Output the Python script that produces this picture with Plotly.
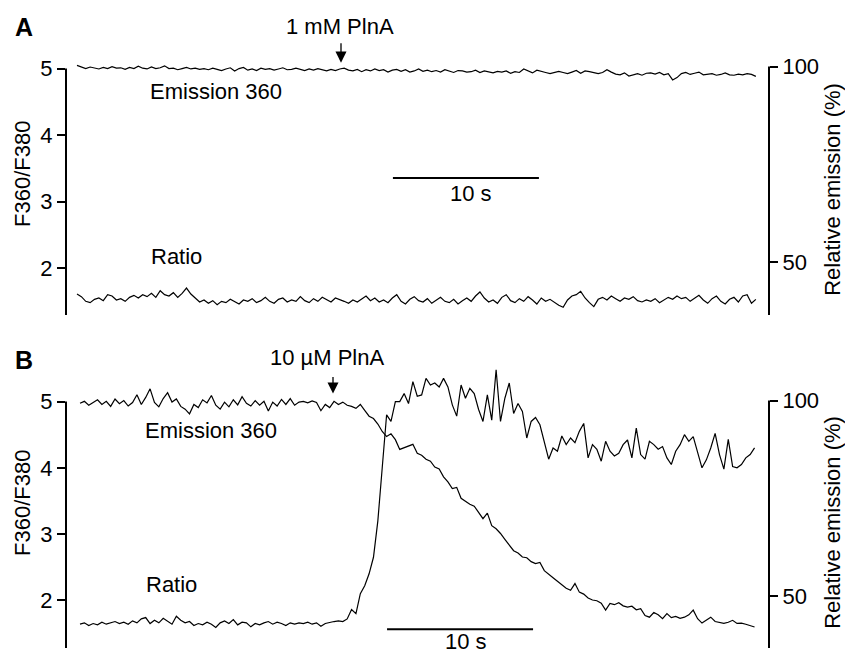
import plotly.graph_objects as go

# sample spacing of the recordings (s)
DT = 0.3

# Panel A: 1 mM PlnA
emis_a = [100.3, 99.8, 99.5, 99.9, 99.6, 99.4, 99.8, 99.5, 100.0, 99.6,
          99.7, 99.3, 99.8, 99.5, 100.1, 99.6, 99.4, 99.9, 99.5, 99.7,
          100.2, 99.5, 99.6, 99.2, 99.5, 99.8, 99.4, 99.6, 99.3, 99.5,
          99.2, 99.6, 99.3, 99.0, 99.4, 99.7, 98.9, 99.5, 99.8, 99.1,
          99.4, 99.0, 99.6, 99.3, 99.5, 99.1, 99.4, 99.7, 99.2, 99.3,
          99.6, 99.2, 99.0, 99.4, 99.1, 99.5, 99.2, 98.9, 99.3, 99.0,
          99.4, 99.6, 99.1, 98.9, 99.3, 98.7, 99.2, 98.9, 99.4, 99.0,
          99.2, 98.6, 99.1, 99.3, 98.8, 99.2, 98.6, 98.9, 99.4, 98.8,
          99.1, 98.7, 99.0, 98.6, 99.2, 98.8, 98.5, 99.0, 98.9, 98.6,
          98.7, 99.1, 98.5, 98.9, 98.6, 98.4, 98.8, 98.6, 98.9, 98.3,
          98.7, 98.5, 99.4, 98.9, 98.4, 99.1, 98.7, 98.5, 98.2, 98.6,
          98.8, 98.5, 98.2, 98.6, 99.0, 98.3, 98.9, 98.7, 98.4, 98.2,
          98.5, 99.2, 98.6, 98.1, 97.9, 98.4, 97.6, 98.0, 98.2, 97.8,
          98.3, 98.4, 98.1, 98.5, 97.9, 98.2, 96.6, 97.2, 98.2, 98.5,
          98.0, 98.3, 98.6, 97.9, 98.1, 98.2, 97.8, 98.0, 98.4, 97.9,
          97.8, 98.1, 97.9, 98.2, 98.0, 97.5]
ratio_a = [1.61, 1.57, 1.50, 1.48, 1.53, 1.55, 1.51, 1.60, 1.58, 1.52,
           1.54, 1.50, 1.56, 1.59, 1.55, 1.60, 1.57, 1.62, 1.56, 1.66,
           1.60, 1.58, 1.63, 1.56, 1.62, 1.70, 1.61, 1.55, 1.49, 1.52,
           1.47, 1.51, 1.45, 1.50, 1.48, 1.53, 1.49, 1.46, 1.52, 1.50,
           1.54, 1.48, 1.51, 1.56, 1.50, 1.47, 1.53, 1.55, 1.49, 1.52,
           1.50, 1.57, 1.51, 1.48, 1.54, 1.50, 1.56, 1.52, 1.49, 1.55,
           1.53, 1.50, 1.47, 1.52, 1.49, 1.54, 1.58, 1.51, 1.55, 1.49,
           1.52, 1.48, 1.55, 1.60, 1.50, 1.46, 1.53, 1.57, 1.51, 1.49,
           1.54, 1.47, 1.52, 1.56, 1.50, 1.48, 1.53, 1.46, 1.51, 1.55,
           1.50, 1.58, 1.64, 1.55, 1.49, 1.52, 1.47, 1.56, 1.60, 1.51,
           1.48, 1.54, 1.50, 1.57, 1.52, 1.46, 1.55, 1.50, 1.53, 1.48,
           1.44, 1.41, 1.52, 1.58, 1.60, 1.65, 1.55, 1.48, 1.42, 1.53,
           1.56, 1.52, 1.58, 1.54, 1.50, 1.55, 1.53, 1.57, 1.51, 1.49,
           1.52, 1.50, 1.54, 1.48, 1.52, 1.56, 1.53, 1.58, 1.54, 1.56,
           1.50, 1.55, 1.59, 1.52, 1.47, 1.54, 1.58, 1.50, 1.46, 1.53,
           1.56, 1.49, 1.58, 1.60, 1.47, 1.53]

# Panel B: 10 uM PlnA
emis_b = [99.3, 99.8, 98.8, 99.6, 100.2, 99.0, 99.8, 98.5, 100.4, 99.2,
          100.0, 98.6, 99.5, 101.5, 99.0, 100.8, 103.0, 99.5, 98.4, 100.5,
          102.0, 99.6, 100.4, 98.5, 97.8, 96.6, 99.0, 98.2, 100.2, 99.4,
          101.3, 98.8, 97.8, 99.6, 98.4, 100.2, 98.9, 101.0, 99.3, 98.6,
          100.0, 98.8, 99.8, 97.3, 99.6, 98.6, 100.3, 99.0, 100.5, 98.8,
          99.6, 99.8, 99.4, 99.9, 99.5, 97.4, 99.0, 98.2, 99.8, 99.0,
          99.6, 98.8, 98.5, 98.0, 99.0, 97.5, 96.0, 95.4, 94.0, 92.1,
          90.8, 91.5, 90.0, 87.5, 88.0, 88.5, 88.8, 86.5, 86.0, 85.0,
          84.5, 83.0, 82.5, 80.5, 79.2, 77.5, 77.8, 75.0, 74.2, 73.5,
          73.0, 71.5, 69.8, 71.2, 68.0, 67.2, 66.0, 64.5, 63.0, 61.6,
          61.0, 60.0, 59.8, 58.8, 58.3, 58.6, 56.5, 55.5, 54.7, 53.8,
          53.0, 52.0, 51.5, 53.2, 51.0, 50.5, 49.5, 49.0, 48.8, 48.2,
          46.4, 48.1, 47.8, 48.3, 47.5, 47.2, 47.4, 46.5, 46.8, 45.0,
          44.6, 45.8, 45.2, 44.2, 45.5, 44.5, 44.8, 44.3, 44.6, 45.2,
          46.4, 44.2, 43.1, 43.8, 44.6, 43.5, 43.3, 43.0, 43.3, 43.8,
          43.0, 43.1, 42.8, 42.5, 42.1]
ratio_b = [1.64, 1.66, 1.62, 1.65, 1.63, 1.67, 1.64, 1.66, 1.68, 1.65,
           1.67, 1.64, 1.69, 1.66, 1.72, 1.74, 1.65, 1.70, 1.66, 1.73,
           1.68, 1.64, 1.76, 1.70, 1.66, 1.68, 1.62, 1.65, 1.63, 1.67,
           1.64, 1.59, 1.66, 1.69, 1.65, 1.71, 1.63, 1.67, 1.66, 1.60,
           1.65, 1.63, 1.66, 1.68, 1.64, 1.67, 1.65, 1.62, 1.66, 1.64,
           1.66, 1.65, 1.67, 1.64, 1.66, 1.61, 1.65, 1.67, 1.68, 1.69,
           1.68, 1.72, 1.86, 1.80, 2.10, 2.22, 2.40, 2.65, 3.20, 4.00,
           4.80, 4.70, 5.00, 5.00, 5.12, 4.97, 5.30, 5.08, 5.10, 5.35,
           5.25, 5.28, 5.22, 5.35, 5.22, 4.95, 4.78, 5.25, 5.05, 5.20,
           5.12, 4.88, 4.70, 5.10, 4.72, 5.48, 4.70, 5.05, 5.28, 4.82,
           4.97, 4.85, 4.45, 4.70, 4.76, 4.65, 4.40, 4.13, 4.30, 4.25,
           4.48, 4.35, 4.45, 4.38, 4.55, 4.67, 4.15, 4.35, 4.28, 4.10,
           4.40, 4.25, 4.18, 4.22, 4.35, 4.42, 4.15, 4.60, 4.20, 4.13,
           4.40, 4.35, 4.28, 4.32, 4.15, 4.05, 4.25, 4.35, 4.50, 4.40,
           4.47, 4.22, 4.00, 4.12, 4.30, 4.52, 4.20, 3.98, 4.43, 4.02,
           4.00, 4.05, 4.15, 4.20, 4.30]

t_a = [i * DT for i in range(len(emis_a))]
t_b = [i * DT for i in range(len(emis_b))]

W, H = 845, 655
FONT = "Liberation Sans, Arial, sans-serif"
line = dict(color="black", width=1.2)


def px(x):
    return x / W


def py(y):
    return 1 - y / H


fig = go.Figure()
fig.add_trace(go.Scatter(x=t_a, y=emis_a, mode="lines", line=line, xaxis="x", yaxis="y2"))
fig.add_trace(go.Scatter(x=t_a, y=ratio_a, mode="lines", line=line, xaxis="x", yaxis="y"))
fig.add_trace(go.Scatter(x=t_b, y=emis_b, mode="lines", line=line, xaxis="x2", yaxis="y4"))
fig.add_trace(go.Scatter(x=t_b, y=ratio_b, mode="lines", line=line, xaxis="x2", yaxis="y3"))

xdom = [px(66), px(769)]
yax = dict(showgrid=False, zeroline=False, showline=False, ticks="outside",
           ticklen=8, tickwidth=2, tickcolor="black",
           tickfont=dict(size=22, color="black", family=FONT))

fig.update_layout(
    width=W, height=H, margin=dict(l=0, r=0, t=0, b=0),
    paper_bgcolor="white", plot_bgcolor="rgba(0,0,0,0)",
    showlegend=False, font=dict(family=FONT, color="black"),
    xaxis=dict(domain=xdom, range=[-0.753, 47.40], visible=False, anchor="y"),
    xaxis2=dict(domain=xdom, range=[-0.959, 47.19], visible=False, anchor="y3"),
    yaxis=dict(yax, domain=[py(313), py(55)], range=[1.293, 5.149],
               tickvals=[2, 3, 4, 5], anchor="x"),
    yaxis2=dict(yax, overlaying="y", side="right", anchor="x",
                range=[36.55, 102.03], tickvals=[50, 100]),
    yaxis3=dict(yax, domain=[py(648), py(362)], range=[1.28, 5.57],
                tickvals=[2, 3, 4, 5], anchor="x2"),
    yaxis4=dict(yax, overlaying="y3", side="right", anchor="x2",
                range=[36.71, 109.4], tickvals=[50, 100]),
)

# axis lines from the top tick down
for ref, top, bot, xpos in [("y", 5, 1.293, 66), ("y2", 100, 36.55, 769),
                            ("y3", 5, 1.28, 66), ("y4", 100, 36.71, 769)]:
    fig.add_shape(type="line", xref="paper", yref=ref, x0=px(xpos), x1=px(xpos),
                  y0=top, y1=bot, line=dict(color="black", width=2))

# 10 s scale bars
fig.add_shape(type="line", xref="x", yref="paper", x0=21.64, x1=31.64,
              y0=py(175), y1=py(175), line=dict(color="black", width=2))
fig.add_shape(type="line", xref="x2", yref="paper", x0=21.03, x1=31.03,
              y0=py(629), y1=py(629), line=dict(color="black", width=2))


def label(text, x, y, size=22, xanchor="center", angle=0):
    fig.add_annotation(text=text, x=px(x), y=py(y), xref="paper", yref="paper",
                       showarrow=False, xanchor=xanchor, yanchor="middle",
                       textangle=angle, font=dict(size=size, color="black", family=FONT))


label("<b>A</b>", 24, 23, size=25)
label("<b>B</b>", 24, 358, size=25)
label("1 mM PlnA", 340, 23)
label("10 µM PlnA", 327, 356)
label("Emission 360", 148, 88, xanchor="left")
label("Ratio", 149, 254, xanchor="left")
label("Emission 360", 143, 429, xanchor="left")
label("Ratio", 144, 584, xanchor="left")
label("10 s", 471, 191)
label("10 s", 466, 641)
label("F360/F380", 23, 171, angle=-90)
label("F360/F380", 23, 502, angle=-90)
label("Relative emission (%)", 833, 187, angle=-90)
label("Relative emission (%)", 833, 522, angle=-90)

# drug application arrows
for x, y, ln in [(341, 59, 21), (333, 392, 18)]:
    fig.add_annotation(text="", x=px(x), y=py(y), xref="paper", yref="paper",
                       showarrow=True, ax=0, ay=-ln, arrowhead=2, arrowsize=1.7,
                       arrowwidth=1.3, arrowcolor="black")

# page has a default body margin; drop it so the figure sits at 0,0
fig.write_html("out.html", config={"displayModeBar": False},
               post_script="document.body.style.margin='0';")
